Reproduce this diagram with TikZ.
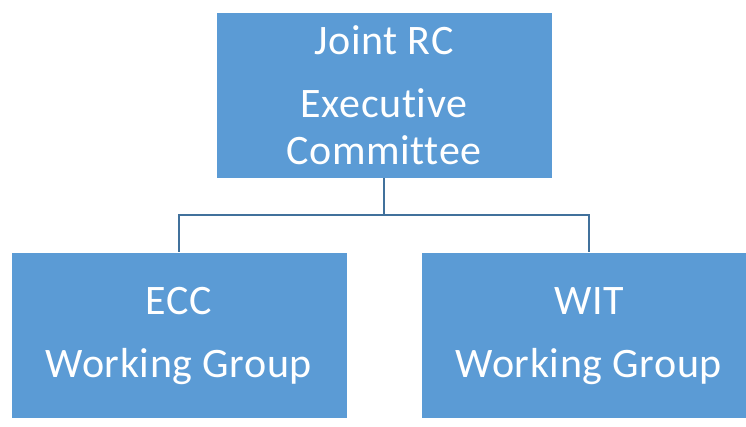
\documentclass[tikz,border=0pt]{standalone}
\usepackage{fontspec}
\setmainfont{Carlito}[Ligatures=NoCommon,LetterSpace=1.5]
\usetikzlibrary{positioning}
\definecolor{boxblue}{HTML}{5B9BD5}
\definecolor{linkblue}{HTML}{41719C}
\begin{document}
\begin{tikzpicture}[x=1pt,y=-1pt,thick]
\tikzstyle{unit}=[rectangle,fill=boxblue,draw=white,line width=0.8pt,text=white,align=center,inner sep=0pt,minimum width=336pt,minimum height=166pt]
\tikzstyle{link}=[draw=linkblue,line width=2pt]
\useasboundingbox (0,0) rectangle (746,427);
\node[unit,font=\fontsize{42}{47}\selectfont] (JRC) at (384,95) {Joint RC\\[16pt]Executive\\Committee};
\node[unit,font=\fontsize{42}{63}\selectfont] (ECC) [below=74pt of JRC,xshift=-205pt] {ECC\\Working Group};
\node[unit,font=\fontsize{42}{63}\selectfont] (WIT) [below=74pt of JRC,xshift=205pt] {WIT\\Working Group};

\draw[link] (JRC.south) -- ++(0,37) -| (ECC.north);
\draw[link] (JRC.south) -- ++(0,37) -| (WIT.north);
\end{tikzpicture}
\end{document}
